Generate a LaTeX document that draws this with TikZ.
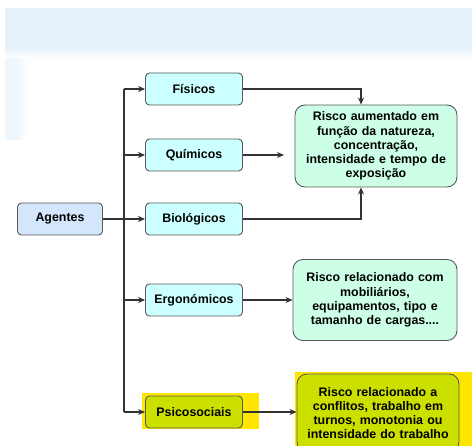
\documentclass[tikz,border=0pt]{standalone}
\usepackage{fontspec}
\setmainfont{Liberation Sans}
\usepackage{xcolor}
\usetikzlibrary{arrows.meta,positioning}
\definecolor{line}{HTML}{333333}
\definecolor{edge}{HTML}{5A5A5A}
\definecolor{agentfill}{HTML}{D4E6FC}
\definecolor{typefill}{HTML}{CCFFFF}
\definecolor{riskfill}{HTML}{CCFFE6}
\definecolor{psyfill}{HTML}{CCE000}
\definecolor{hilite}{HTML}{FFE600}
\definecolor{skyband}{HTML}{E4F1FB}
\tikzset{
  box/.style={draw=edge, line width=0.9pt, rounded corners=4pt, font=\bfseries\fontsize{12.4}{14.2}\selectfont,
    text=black, inner sep=2pt},
  agent/.style={box, fill=agentfill, minimum width=85pt, minimum height=32pt},
  kind/.style={box, fill=typefill, minimum width=97pt, minimum height=32pt},
  risk/.style={box, fill=riskfill, rounded corners=10pt, align=center, text width=158pt},
  conn/.style={draw=line, line width=1.1pt},
  arr/.style={conn, -{Stealth[length=7pt,width=6pt]}}
}
\begin{document}
\begin{tikzpicture}[x=1pt,y=-1pt]
  \useasboundingbox (0,0) rectangle (472,446);
  % background
  \fill[white] (0,0) rectangle (472,446);
  \fill[skyband!60!white] (5,46) rectangle (17,140);
  \foreach \i [evaluate=\i as \p using int(60-\i*6)] in {0,...,9}
    \fill[skyband!\p!white] (17+\i,46) rectangle (18.2+\i,140);
  \fill[skyband] (5,8) rectangle (472,46);
  \foreach \i [evaluate=\i as \p using int(100-\i*8)] in {0,...,11}
    \fill[skyband!\p!white] (5,46+\i) rectangle (472,47.2+\i);

  % highlights
  \fill[hilite] (142,393) rectangle (259,429);
  \fill[hilite] (295,372) rectangle (472,446);

  \node[agent] (agt) at (60,219) {Agentes};

  \node[kind] (fis) at (194,89) {Físicos};
  \node[kind] (qui) at (194,155) {Químicos};
  \node[kind] (bio) at (194,219) {Biológicos};
  \node[kind] (erg) at (194,300) {Ergonómicos};
  \node[kind, fill=psyfill] (psi) at (194,412) {Psicosociais};

  \node[risk, minimum width=160pt, minimum height=82pt] (r1) at (376,146)
    {Risco aumentado em\\função da natureza,\\concentração,\\intensidade e tempo de\\exposição};
  \node[risk, minimum width=164pt, minimum height=81pt] (r2) at (375,300)
    {Risco relacionado com\\mobiliários,\\equipamentos, tipo e\\tamanho de cargas....};
  \node[risk, fill=psyfill, minimum width=159pt, minimum height=78pt] (r3) at (378,413)
    {Risco relacionado a\\conflitos, trabalho em\\turnos, monotonia ou\\intensidade do trabalho};

  % trunk
  \coordinate (tTop) at (124,89);
  \coordinate (tBot) at (124,412);
  \draw[conn] (tTop) -- (tBot);
  \draw[arr] (tTop) -- (fis);
  \draw[arr] (tTop |- qui) -- (qui);
  \draw[arr] (agt) -- (bio);
  \draw[arr] (tTop |- erg) -- (erg);
  \draw[arr] (tBot) -- (psi);

  % to risks
  \coordinate (quiEnd) at (284,155);
  \draw[arr] (fis) -| ([xshift=-15pt]r1.north);
  \draw[arr] (qui) -- (quiEnd);
  \draw[arr] (bio) -| ([xshift=-15pt]r1.south);
  \draw[arr] (erg) -- (r2);
  \draw[arr] (psi) -- (psi -| r3.west);
\end{tikzpicture}
\end{document}
